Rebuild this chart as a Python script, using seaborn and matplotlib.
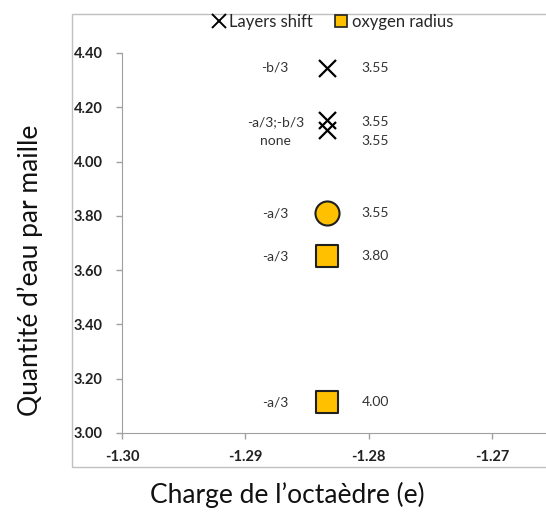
import pandas as pd
import seaborn as sns
import matplotlib.pyplot as plt
from matplotlib.patches import Rectangle
from matplotlib.lines import Line2D

# donnees
charge = [-1.2834, -1.2834, -1.2834, -1.2834, -1.2834, -1.2834]
eau = [4.345, 4.153, 4.116, 3.81, 3.652, 3.114]
decalage = ['-b/3', '-a/3;-b/3', 'none', '-a/3', '-a/3', '-a/3']
rayon = ['3.55', '3.55', '3.55', '3.55', '3.80', '4.00']
marqueur = ['shift', 'shift', 'shift', 'circle', 'square', 'square']

df = pd.DataFrame({'charge': charge, 'eau': eau, 'decalage': decalage,
                   'rayon': rayon, 'marqueur': marqueur})

sns.set_style('white')
plt.rcParams['font.family'] = ['Lato', 'DejaVu Sans']

fig = plt.figure(figsize=(5.46, 5.12), dpi=100)
ax = fig.add_axes([0.2234, 0.1543, 0.7766, 0.7422])

# cadre du graphique (style Excel)
fig.patches.append(Rectangle((0.132, 0.088), 0.9, 0.885, transform=fig.transFigure,
                             fill=False, edgecolor='#c0c0c0', linewidth=1.0))

orange = '#FFC000'
sns.scatterplot(data=df[df['marqueur'] == 'shift'], x='charge', y='eau', marker='x',
                s=150, color='black', linewidth=1.6, ax=ax, legend=False)
sns.scatterplot(data=df[df['marqueur'] == 'circle'], x='charge', y='eau', marker='o',
                s=300, color=orange, edgecolor='#202020', linewidth=1.5, ax=ax, legend=False)
sns.scatterplot(data=df[df['marqueur'] == 'square'], x='charge', y='eau', marker='s',
                s=230, color=orange, edgecolor='#202020', linewidth=1.5, ax=ax, legend=False)

# etiquettes a gauche et a droite des points
for i, row in df.iterrows():
    dy = -8 if row['decalage'] == 'none' else 0
    dy = -1.5 if row['decalage'] == '-a/3;-b/3' else dy
    ax.annotate(row['decalage'], (row['charge'], row['eau']), xytext=(-37, dy),
                textcoords='offset points', ha='center', va='center', fontsize=10,
                color='#333333')
    ax.annotate(row['rayon'], (row['charge'], row['eau']), xytext=(25, dy),
                textcoords='offset points', ha='left', va='center', fontsize=10,
                color='#333333')

ax.set_xlim(-1.30, -1.2656)
ax.set_ylim(3.0, 4.40)
ax.set_xticks([-1.30, -1.29, -1.28, -1.27])
ax.set_xticklabels(['-1.30', '-1.29', '-1.28', '-1.27'])
ax.set_yticks([3.0, 3.2, 3.4, 3.6, 3.8, 4.0, 4.2, 4.4])
ax.set_yticklabels([f'{v:.2f}' for v in [3.0, 3.2, 3.4, 3.6, 3.8, 4.0, 4.2, 4.4]])
ax.tick_params(axis='both', labelsize=10.5, direction='out', length=4,
               width=1, left=True, bottom=True)
ax.tick_params(axis='y', pad=10)
ax.tick_params(axis='x', pad=8)
for lbl in ax.get_xticklabels() + ax.get_yticklabels():
    lbl.set_color('#202020')
    lbl.set_fontweight('bold')
sns.despine(ax=ax)
ax.spines['left'].set_color('#a0a0a0')
ax.spines['bottom'].set_color('#a0a0a0')
ax.tick_params(axis='both', color='#a0a0a0')

ax.set_xlabel("Charge de l’octaèdre (e)", fontsize=19, color='#111111')
ax.set_ylabel("Quantité d’eau par maille", fontsize=19, color='#111111')
ax.xaxis.set_label_coords(0.389, -0.163)
ax.yaxis.set_label_coords(-0.217, 0.429)
ax.xaxis.label.set_va('center')
ax.yaxis.label.set_va('center')

handles = [
    Line2D([], [], marker='x', linestyle='', color='black', markersize=10, markeredgewidth=1.4,
           label='Layers shift'),
    Line2D([], [], marker='s', linestyle='', markerfacecolor=orange, markeredgecolor='#202020',
           markersize=9, markeredgewidth=1.2, label='oxygen radius'),
]
fig.legend(handles=handles, loc='center', bbox_to_anchor=(0.608, 0.957), ncol=2, frameon=False,
           fontsize=12, handletextpad=0.15, columnspacing=1.2, handlelength=1.0)

fig.savefig('out.png', dpi=100)
